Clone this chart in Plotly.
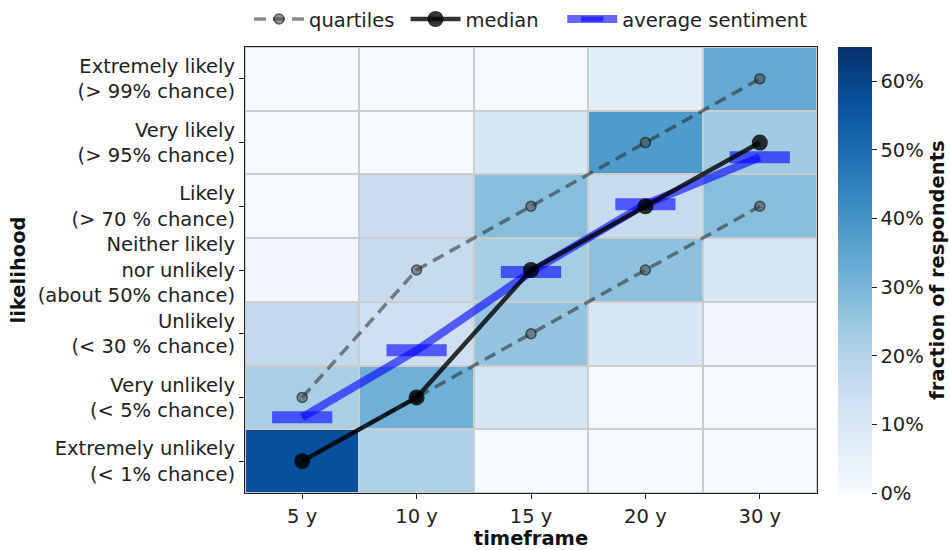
import plotly.graph_objects as go

# Timeframes (columns) and likelihood categories (rows, bottom to top)
timeframes = ["5 y", "10 y", "15 y", "20 y", "30 y"]
likelihood_labels = [
    "Extremely unlikely<br>(&lt; 1% chance)",
    "Very unlikely<br>(&lt; 5% chance)",
    "Unlikely<br>(&lt; 30 % chance)",
    "Neither likely<br>nor unlikely<br>(about 50% chance)",
    "Likely<br>(&gt; 70 % chance)",
    "Very likely<br>(&gt; 95% chance)",
    "Extremely likely<br>(&gt; 99% chance)",
]
likelihood_levels = [0, 1, 2, 3, 4, 5, 6]

# Fraction of respondents per timeframe, listed from "Extremely unlikely" up
share_5y = [0.57, 0.22, 0.17, 0.02, 0.01, 0.005, 0.005]
share_10y = [0.21, 0.32, 0.14, 0.16, 0.15, 0.01, 0.01]
share_15y = [0.01, 0.11, 0.26, 0.23, 0.28, 0.10, 0.01]
share_20y = [0.01, 0.01, 0.10, 0.27, 0.16, 0.38, 0.07]
share_30y = [0.01, 0.01, 0.02, 0.10, 0.28, 0.24, 0.34]

# Summary statistics on the likelihood scale
lower_quartile = [0, 1, 2, 3, 4]
upper_quartile = [1, 3, 4, 5, 6]
median = [0, 1, 3, 4, 5]
average_sentiment = [0.69, 1.74, 2.97, 4.03, 4.77]

columns = [share_5y, share_10y, share_15y, share_20y, share_30y]
z = [[col[r] for col in columns] for r in range(len(likelihood_levels))]

blues = [
    [0.0, "#f7fbff"], [0.125, "#deebf7"], [0.25, "#c6dbef"],
    [0.375, "#9ecae1"], [0.5, "#6baed6"], [0.625, "#4292c6"],
    [0.75, "#2171b5"], [0.875, "#08519c"], [1.0, "#08306b"],
]

FONT = "DejaVu Sans"
FS = 19.5
GAP = "&nbsp;"

fig = go.Figure()

fig.add_trace(go.Heatmap(
    x=timeframes, y=likelihood_levels, z=z,
    colorscale=blues, zmin=0, zmax=0.65,
    xgap=2, ygap=2,
    showlegend=False, hoverinfo="skip",
    colorbar=dict(
        x=1.037, xanchor="left", y=0.5, yanchor="middle",
        len=1.0, lenmode="fraction", thickness=34,
        xpad=0, ypad=0,
        outlinewidth=0,
        tickvals=[0, 0.1, 0.2, 0.3, 0.4, 0.5, 0.6],
        tickformat=".0%",
        ticks="outside", ticklen=5, tickcolor="#222",
        tickfont=dict(family=FONT, size=FS, color="#222"),
        title=dict(text="fraction of respondents", side="right",
                   font=dict(family=FONT, size=FS, color="#111", weight="bold")),
    ),
))

quart_line = dict(color="rgba(40,40,40,0.55)", width=3.5, dash="12px,7px")
quart_marker = dict(size=10, color="rgba(70,70,70,0.55)",
                    line=dict(color="rgba(20,20,20,0.6)", width=1.5))

fig.add_trace(go.Scatter(
    x=timeframes, y=lower_quartile, mode="lines+markers",
    line=quart_line, marker=quart_marker,
    name="quartiles" + GAP, legendgroup="q", showlegend=True, legendrank=1,
))
fig.add_trace(go.Scatter(
    x=timeframes, y=upper_quartile, mode="lines+markers",
    line=quart_line, marker=quart_marker,
    name="quartiles", legendgroup="q", showlegend=False,
))

fig.add_trace(go.Scatter(
    x=timeframes, y=average_sentiment, mode="lines+markers",
    line=dict(color="rgba(0,0,255,0.6)", width=8),
    marker=dict(symbol="line-ew", size=43,
                line=dict(color="rgba(0,0,255,0.6)", width=12)),
    name="average sentiment", legendrank=3,
))

fig.add_trace(go.Scatter(
    x=timeframes, y=median, mode="lines+markers",
    line=dict(color="rgba(0,0,0,0.8)", width=4.5),
    marker=dict(size=16, color="rgba(0,0,0,0.8)"),
    name="median" + GAP * 3, legendrank=2,
))

fig.update_layout(
    width=950, height=550,
    margin=dict(l=245, r=133, t=47, b=57, autoexpand=False),
    paper_bgcolor="white",
    plot_bgcolor="#cccccc",
    font=dict(family=FONT, size=FS, color="#222"),
    legend=dict(
        orientation="h", x=0.5, xanchor="center", y=1.062, yanchor="middle",
        font=dict(family=FONT, size=FS, color="#222"),
        bgcolor="rgba(0,0,0,0)", itemwidth=50,
    ),
    xaxis=dict(
        title=dict(text="timeframe", font=dict(family=FONT, size=FS, weight="bold", color="#111"),
                   standoff=2),
        type="category", range=[-0.5, 4.5],
        showgrid=False, zeroline=False,
        ticks="outside", ticklen=5, tickcolor="#222",
        showline=True, linecolor="#222", linewidth=1.2, mirror=True,
        tickfont=dict(family=FONT, size=FS),
    ),
    yaxis=dict(
        title=dict(text="likelihood", font=dict(family=FONT, size=FS, weight="bold", color="#111"),
                   standoff=6),
        range=[-0.5, 6.5],
        tickvals=likelihood_levels, ticktext=likelihood_labels,
        showgrid=False, zeroline=False,
        ticks="outside", ticklen=5, tickcolor="#222",
        showline=True, linecolor="#222", linewidth=1.2, mirror=True,
        tickfont=dict(family=FONT, size=FS),
    ),
)

fig.write_html("out.html")
